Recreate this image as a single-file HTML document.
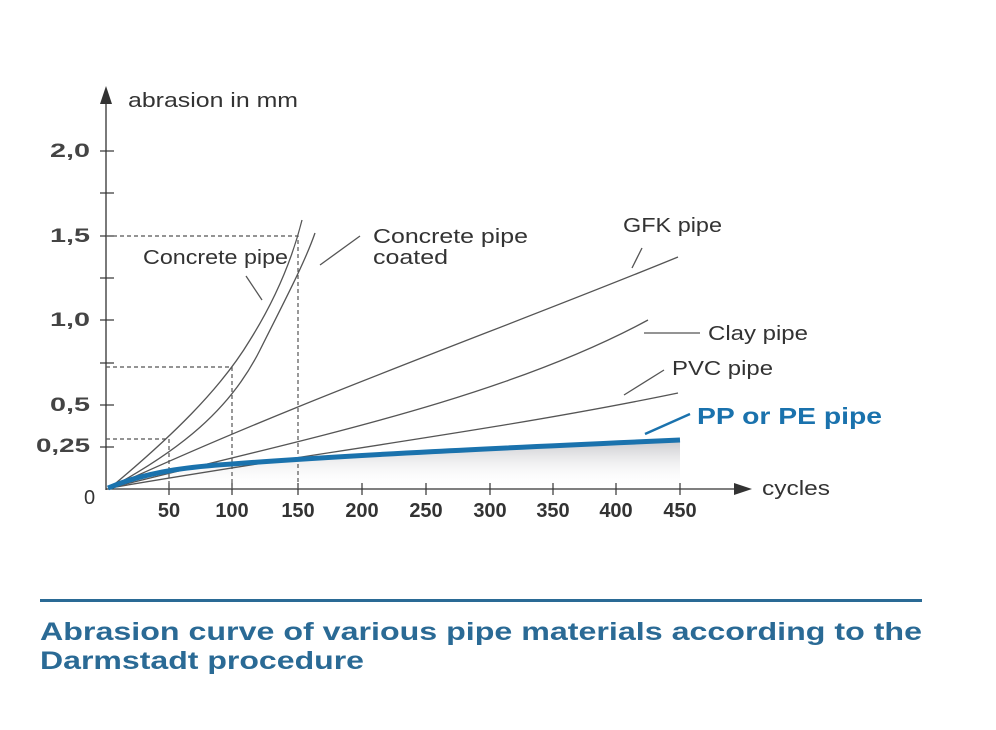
<!DOCTYPE html>
<html><head><style>
body{margin:0;background:#fff;}
svg{display:block;}
text{font-family:"Liberation Sans",sans-serif;}
</style></head><body>
<svg width="996" height="730" viewBox="0 0 996 730">
<defs>
<linearGradient id="g" x1="0" y1="0" x2="0" y2="1">
<stop offset="0" stop-color="#c8c8cc"/><stop offset="1" stop-color="#fff" stop-opacity="0"/>
</linearGradient>
</defs>
<path d="M110,488 C150,470 200,466 232,464 C350,455 500,448 680,440 L680,486 L110,488Z" fill="url(#g)"/>
<g stroke="#333" stroke-width="1.3" fill="none">
<line x1="106" y1="100" x2="106" y2="490"/>
<line x1="106" y1="489" x2="735" y2="489"/>
</g>
<polygon points="106,86 100,104 112,104" fill="#333"/>
<polygon points="752,489 734,483 734,495" fill="#333"/>
<g stroke="#333" stroke-width="1.2">
<line x1="100" y1="151" x2="114" y2="151"/><line x1="100" y1="193" x2="114" y2="193"/>
<line x1="100" y1="236" x2="114" y2="236"/><line x1="100" y1="278" x2="114" y2="278"/>
<line x1="100" y1="320" x2="114" y2="320"/><line x1="100" y1="363" x2="114" y2="363"/>
<line x1="100" y1="405" x2="114" y2="405"/><line x1="100" y1="447" x2="114" y2="447"/>
<line x1="169" y1="483" x2="169" y2="495"/><line x1="232" y1="483" x2="232" y2="495"/>
<line x1="298" y1="483" x2="298" y2="495"/><line x1="362" y1="483" x2="362" y2="495"/>
<line x1="426" y1="483" x2="426" y2="495"/><line x1="490" y1="483" x2="490" y2="495"/>
<line x1="553" y1="483" x2="553" y2="495"/><line x1="616" y1="483" x2="616" y2="495"/>
<line x1="680" y1="483" x2="680" y2="495"/>
</g>
<g stroke="#555" stroke-width="1.2" stroke-dasharray="4,3" fill="none">
<polyline points="106,439 169,439 169,489"/>
<polyline points="106,367 232,367 232,489"/>
<polyline points="106,236 298,236 298,489"/>
</g>
<g stroke="#555" stroke-width="1.3" fill="none">
<path d="M110,488 C170,438 220,390 250,340 C275,300 292,260 302,220"/>
<path d="M110,488 C180,450 230,410 260,350 C285,300 305,262 315,233"/>
<path d="M110,488 C300,400 500,330 678,257"/>
<path d="M110,488 C300,440 500,400 648,320"/>
<path d="M110,488 C300,455 500,430 678,393"/>
<line x1="246" y1="276" x2="262" y2="300"/>
<line x1="320" y1="265" x2="360" y2="236"/>
<line x1="632" y1="268" x2="642" y2="248"/>
<line x1="644" y1="333" x2="700" y2="333"/>
<line x1="624" y1="395" x2="664" y2="370"/>
</g>
<path d="M108,488 C150,470 200,466 232,464 C350,455 500,448 680,440" stroke="#1a72ad" stroke-width="5" fill="none"/>
<line x1="645" y1="434" x2="690" y2="414" stroke="#1a72ad" stroke-width="2.5"/>
<g fill="#333" font-size="20">
<text x="128" y="107" textLength="170" lengthAdjust="spacingAndGlyphs">abrasion in mm</text>
<g font-weight="bold" fill="#444" font-size="19">
<text x="50" y="157" textLength="40" lengthAdjust="spacingAndGlyphs">2,0</text>
<text x="50" y="242" textLength="40" lengthAdjust="spacingAndGlyphs">1,5</text>
<text x="50" y="326" textLength="40" lengthAdjust="spacingAndGlyphs">1,0</text>
<text x="50" y="411" textLength="40" lengthAdjust="spacingAndGlyphs">0,5</text>
<text x="36" y="452" textLength="54" lengthAdjust="spacingAndGlyphs">0,25</text>
</g>
<text x="84" y="504">0</text>
<text x="143" y="264" textLength="145" lengthAdjust="spacingAndGlyphs">Concrete pipe</text>
<text x="373" y="243" textLength="155" lengthAdjust="spacingAndGlyphs">Concrete pipe</text>
<text x="373" y="264" textLength="75" lengthAdjust="spacingAndGlyphs">coated</text>
<text x="623" y="232" textLength="99" lengthAdjust="spacingAndGlyphs">GFK pipe</text>
<text x="708" y="340" textLength="100" lengthAdjust="spacingAndGlyphs">Clay pipe</text>
<text x="672" y="375" textLength="101" lengthAdjust="spacingAndGlyphs">PVC pipe</text>
<text x="762" y="495" textLength="68" lengthAdjust="spacingAndGlyphs">cycles</text>
</g>
<g fill="#333" font-size="20" font-weight="bold" text-anchor="middle">
<text x="169" y="517">50</text><text x="232" y="517">100</text><text x="298" y="517">150</text>
<text x="362" y="517">200</text><text x="426" y="517">250</text><text x="490" y="517">300</text>
<text x="553" y="517">350</text><text x="616" y="517">400</text><text x="680" y="517">450</text>
</g>
<text x="697" y="424" fill="#1a72ad" font-size="23" font-weight="bold" textLength="185" lengthAdjust="spacingAndGlyphs">PP or PE pipe</text>
<rect x="40" y="599" width="882" height="3" fill="#2a6a95"/>
<g fill="#2a6a95" font-size="25" font-weight="bold">
<text x="40" y="640" textLength="882" lengthAdjust="spacingAndGlyphs">Abrasion curve of various pipe materials according to the</text>
<text x="40" y="669" textLength="324" lengthAdjust="spacingAndGlyphs">Darmstadt procedure</text>
</g>
</svg>
</body></html>
